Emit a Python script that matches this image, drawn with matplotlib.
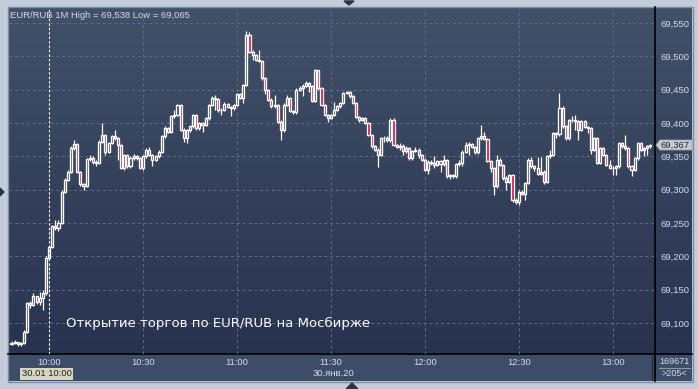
import matplotlib
matplotlib.use("Agg")
import matplotlib.pyplot as plt
import numpy as np
from matplotlib.patches import Rectangle, Polygon

W, H = 698, 389

# ----------------------------- data (1-minute EUR/RUB bars, 09:48 .. 13:12) -----------------------------
first_open = 69.069
close = [
    69.070, 69.072, 69.068, 69.070, 69.087, 69.130, 69.127, 69.140, 69.131, 69.138, 69.145, 69.198,
    69.214, 69.245, 69.242, 69.250, 69.297, 69.315, 69.327, 69.362, 69.368, 69.327,
    69.308, 69.306, 69.346, 69.348, 69.342, 69.340, 69.372, 69.382, 69.357, 69.370,
    69.380, 69.377, 69.367, 69.333, 69.352, 69.335, 69.348, 69.350, 69.347, 69.333,
    69.350, 69.360, 69.352, 69.345, 69.350, 69.357, 69.380, 69.392, 69.387, 69.410,
    69.412, 69.427, 69.390, 69.377, 69.389, 69.395, 69.412, 69.392, 69.400, 69.397,
    69.407, 69.427, 69.437, 69.436, 69.419, 69.420, 69.428, 69.424, 69.422, 69.427,
    69.443, 69.438, 69.457, 69.532, 69.507, 69.502, 69.495, 69.493, 69.467, 69.449,
    69.435, 69.425, 69.427, 69.402, 69.389, 69.427, 69.437, 69.418, 69.416, 69.450,
    69.452, 69.456, 69.460, 69.455, 69.433, 69.479, 69.452, 69.427, 69.412, 69.408,
    69.412, 69.420, 69.425, 69.430, 69.445, 69.446, 69.440, 69.430, 69.409, 69.405,
    69.407, 69.400, 69.382, 69.365, 69.360, 69.352, 69.377, 69.378, 69.374, 69.405,
    69.367, 69.364, 69.366, 69.358, 69.362, 69.347, 69.358, 69.360, 69.352, 69.345,
    69.330, 69.342, 69.340, 69.337, 69.343, 69.338, 69.344, 69.320, 69.322, 69.320,
    69.338, 69.340, 69.357, 69.367, 69.368, 69.364, 69.356, 69.377, 69.380, 69.376,
    69.343, 69.332, 69.305, 69.345, 69.337, 69.317, 69.312, 69.322, 69.284, 69.282,
    69.297, 69.294, 69.310, 69.345, 69.335, 69.333, 69.324, 69.326, 69.312, 69.350,
    69.352, 69.385, 69.383, 69.423, 69.395, 69.377, 69.404, 69.405, 69.403, 69.390,
    69.403, 69.394, 69.392, 69.360, 69.377, 69.340, 69.362, 69.352, 69.337, 69.333,
    69.332, 69.335, 69.370, 69.365, 69.362, 69.335, 69.330, 69.347, 69.370, 69.360,
    69.362, 69.365, 69.367,
]
high = [
    69.073, 69.074, 69.072, 69.072, 69.089, 69.132, 69.133, 69.145, 69.141, 69.147, 69.149, 69.200,
    69.216, 69.247, 69.254, 69.255, 69.300, 69.318, 69.330, 69.365, 69.375, 69.370,
    69.328, 69.310, 69.348, 69.352, 69.350, 69.344, 69.374, 69.400, 69.384, 69.372,
    69.382, 69.390, 69.379, 69.369, 69.354, 69.354, 69.350, 69.354, 69.352, 69.349,
    69.352, 69.362, 69.364, 69.354, 69.352, 69.359, 69.382, 69.395, 69.394, 69.412,
    69.420, 69.429, 69.428, 69.392, 69.391, 69.397, 69.414, 69.413, 69.402, 69.402,
    69.409, 69.429, 69.441, 69.442, 69.437, 69.422, 69.432, 69.430, 69.426, 69.429,
    69.445, 69.445, 69.459, 69.538, 69.537, 69.509, 69.504, 69.510, 69.495, 69.469,
    69.451, 69.437, 69.442, 69.429, 69.404, 69.430, 69.442, 69.439, 69.420, 69.452,
    69.455, 69.458, 69.463, 69.462, 69.457, 69.481, 69.480, 69.454, 69.429, 69.414,
    69.414, 69.432, 69.427, 69.432, 69.447, 69.448, 69.448, 69.442, 69.432, 69.411,
    69.409, 69.409, 69.402, 69.384, 69.367, 69.362, 69.379, 69.380, 69.380, 69.408,
    69.407, 69.369, 69.370, 69.368, 69.365, 69.364, 69.360, 69.364, 69.362, 69.354,
    69.347, 69.344, 69.344, 69.350, 69.345, 69.345, 69.352, 69.346, 69.324, 69.324,
    69.340, 69.345, 69.359, 69.372, 69.372, 69.370, 69.366, 69.379, 69.397, 69.387,
    69.378, 69.345, 69.334, 69.352, 69.347, 69.339, 69.320, 69.324, 69.324, 69.287,
    69.299, 69.300, 69.312, 69.347, 69.349, 69.337, 69.349, 69.349, 69.330, 69.352,
    69.360, 69.387, 69.387, 69.445, 69.425, 69.397, 69.406, 69.410, 69.412, 69.405,
    69.405, 69.405, 69.396, 69.394, 69.379, 69.379, 69.364, 69.364, 69.354, 69.344,
    69.335, 69.337, 69.372, 69.372, 69.382, 69.364, 69.337, 69.349, 69.372, 69.372,
    69.364, 69.367, 69.369,
]
low = [
    69.067, 69.069, 69.065, 69.066, 69.068, 69.085, 69.122, 69.125, 69.129, 69.127, 69.120, 69.142,
    69.196, 69.212, 69.240, 69.238, 69.248, 69.295, 69.313, 69.325, 69.360, 69.325,
    69.305, 69.299, 69.304, 69.343, 69.338, 69.336, 69.338, 69.370, 69.352, 69.355,
    69.368, 69.374, 69.345, 69.331, 69.330, 69.333, 69.332, 69.345, 69.344, 69.331,
    69.330, 69.347, 69.350, 69.335, 69.343, 69.348, 69.355, 69.377, 69.385, 69.385,
    69.408, 69.410, 69.388, 69.372, 69.370, 69.387, 69.393, 69.390, 69.389, 69.386,
    69.395, 69.405, 69.425, 69.419, 69.417, 69.412, 69.418, 69.422, 69.411, 69.420,
    69.425, 69.436, 69.430, 69.455, 69.505, 69.494, 69.493, 69.491, 69.465, 69.444,
    69.433, 69.422, 69.423, 69.400, 69.375, 69.387, 69.425, 69.416, 69.413, 69.414,
    69.448, 69.441, 69.454, 69.447, 69.431, 69.431, 69.450, 69.425, 69.410, 69.401,
    69.406, 69.410, 69.418, 69.423, 69.428, 69.443, 69.438, 69.428, 69.407, 69.402,
    69.403, 69.398, 69.380, 69.363, 69.358, 69.334, 69.350, 69.372, 69.372, 69.372,
    69.365, 69.362, 69.360, 69.352, 69.355, 69.345, 69.345, 69.356, 69.348, 69.343,
    69.328, 69.324, 69.337, 69.333, 69.335, 69.327, 69.336, 69.318, 69.316, 69.318,
    69.318, 69.336, 69.336, 69.355, 69.352, 69.362, 69.354, 69.354, 69.375, 69.374,
    69.341, 69.327, 69.292, 69.303, 69.335, 69.315, 69.300, 69.310, 69.282, 69.279,
    69.277, 69.292, 69.285, 69.308, 69.333, 69.328, 69.322, 69.322, 69.309, 69.310,
    69.348, 69.350, 69.377, 69.381, 69.393, 69.375, 69.375, 69.402, 69.390, 69.375,
    69.388, 69.392, 69.385, 69.354, 69.358, 69.338, 69.338, 69.350, 69.335, 69.331,
    69.322, 69.322, 69.333, 69.363, 69.360, 69.333, 69.320, 69.328, 69.345, 69.358,
    69.351, 69.352, 69.363,
]
first_minute = -12          # bar times in minutes from 10:00 (first bar 09:48)

ytick_vals = [69.10, 69.15, 69.20, 69.25, 69.30, 69.35, 69.40, 69.45, 69.50, 69.55]
ytick_labels = ["69,100", "69,150", "69,200", "69,250", "69,300",
                "69,350", "69,400", "69,450", "69,500", "69,550"]
xtick_vals = [0, 30, 60, 90, 120, 150, 180]
xtick_labels = ["10:00", "10:30", "11:00", "11:30", "12:00", "12:30", "13:00"]

title_text = "EUR/RUB 1M High = 69,538 Low = 69,065"
note_text = "Открытие торгов по EUR/RUB на Мосбирже"
last_label = "69,367"
last_value = 69.367
cursor_minute = 0
cursor_label = "30.01 10:00"
date_label = "30.янв.20"
volume_label = "169671"
bars_label = ">205<"

# ----------------------------- styling -----------------------------
FONT = "Liberation Sans"
TXT = "#d4dcea"
GRID = "#5f6d88"
RED = "#e0103c"
TOP_BG = np.array([66, 80, 104]) / 255
BOT_BG = np.array([40, 51, 80]) / 255

fig = plt.figure(figsize=(W / 100, H / 100), dpi=100)
fig.patch.set_facecolor("#c3cdd9")

# pixel-space background layer
bg = fig.add_axes([0, 0, 1, 1], zorder=0)
bg.set_xlim(0, W)
bg.set_ylim(H, 0)
bg.axis("off")

grad = np.linspace(0, 1, 256)[:, None, None]
img = TOP_BG * (1 - grad) + BOT_BG * grad
img = np.repeat(img, 2, axis=1)
bg.imshow(img, extent=(8, 692, 354, 7), aspect="auto", interpolation="bilinear")
bg.add_patch(Rectangle((8, 354), 684, 27, facecolor="#3e4d67", edgecolor="none"))
bg.add_patch(Rectangle((7.5, 6.5), 685, 375, facecolor="none", edgecolor="#7f8ea3", lw=1))
bg.plot([655, 655], [7, 381], color="black", lw=1.2)
bg.plot([8, 692], [354, 354], color="black", lw=1.2)
bg.plot([652, 652], [356, 380], color="#222a3a", lw=0.8)
bg.plot([659, 690], [368, 368], color="#8c99ad", lw=0.8)

# small navigation triangles
bg.add_patch(Polygon([[344, 1], [354, 1], [349, 5]], closed=True, color="#2b3445"))
bg.add_patch(Polygon([[346, 389], [358, 389], [352, 383]], closed=True, color="#2b3445"))
bg.add_patch(Polygon([[0, 188], [0, 196], [4, 192]], closed=True, color="#2b3445"))

# ----------------------------- candles -----------------------------
ax = fig.add_axes([9 / W, 1 - 354 / H, (655 - 9) / W, (354 - 8) / H], zorder=2)
ax.set_facecolor("none")
ax.set_xlim(-12.8, 193.5)
ax.set_ylim(69.0535, 69.5725)

t = np.arange(first_minute, first_minute + len(close))
c = np.array(close)
o = np.concatenate([[first_open], c[:-1]])
hi = np.array(high)
lo = np.array(low)
down = c < o

ax.vlines(t, lo, hi, color="white", lw=0.9, zorder=3)
body_lo = np.minimum(o, c)
body_h = np.abs(c - o)
face = np.where(down, RED, "#34405c")
ax.bar(t, body_h, bottom=body_lo, width=0.66, color=face, edgecolor="white",
       linewidth=0.95, zorder=4)

ax.set_yticks(ytick_vals)
ax.set_yticklabels(ytick_labels)
ax.set_xticks(xtick_vals)
ax.set_xticklabels(xtick_labels)
ax.yaxis.tick_right()
ax.tick_params(axis="y", length=0, pad=4, labelsize=6.8, labelcolor=TXT)
ax.tick_params(axis="x", length=0, pad=3, labelsize=6.8, labelcolor=TXT)
for lab in ax.get_xticklabels() + ax.get_yticklabels():
    lab.set_fontfamily(FONT)
ax.grid(True, color=GRID, ls=(0, (3, 3)), lw=0.7)
ax.set_axisbelow(True)
for s in ax.spines.values():
    s.set_visible(False)

# crosshair at cursor time
ax.axvline(cursor_minute, color="white", ls=(0, (2, 2)), lw=0.8, zorder=5)

# ----------------------------- texts -----------------------------
bg.text(10, 15, title_text, fontsize=6.8, family=FONT, color=TXT, va="center", ha="left")
fig.text(66 / W, 1 - 323 / H, note_text, fontsize=9.5, family="DejaVu Sans",
         color="white", va="center", ha="left", zorder=6)

# last price tag
ly = ax.transData.transform((0, last_value))[1]
ly_px = H - ly
bg.add_patch(Polygon([[656, ly_px], [660, ly_px - 5], [692, ly_px - 5],
                      [692, ly_px + 5], [660, ly_px + 5]], closed=True,
                     facecolor="#c9cdd3", edgecolor="#9aa2ad", lw=0.6, zorder=3))
bg.text(675, ly_px, last_label, fontsize=6.8, family=FONT, color="#1c2230",
        va="center", ha="center", zorder=4)

# cursor date box, date caption, right-bottom counters
bg.text(46.5, 374, cursor_label, fontsize=6.8, family=FONT, color="#1c2230",
        va="center", ha="center",
        bbox=dict(boxstyle="square,pad=0.15", facecolor="#d9d6bf", edgecolor="none"))
bg.text(333, 374, date_label, fontsize=6.8, family=FONT, color=TXT, va="center", ha="center")
bg.text(674, 362, volume_label, fontsize=6.5, family=FONT, color=TXT, va="center", ha="center")
bg.text(674, 374, bars_label, fontsize=6.5, family=FONT, color=TXT, va="center", ha="center")

fig.savefig("out.png", dpi=100, facecolor=fig.get_facecolor())
